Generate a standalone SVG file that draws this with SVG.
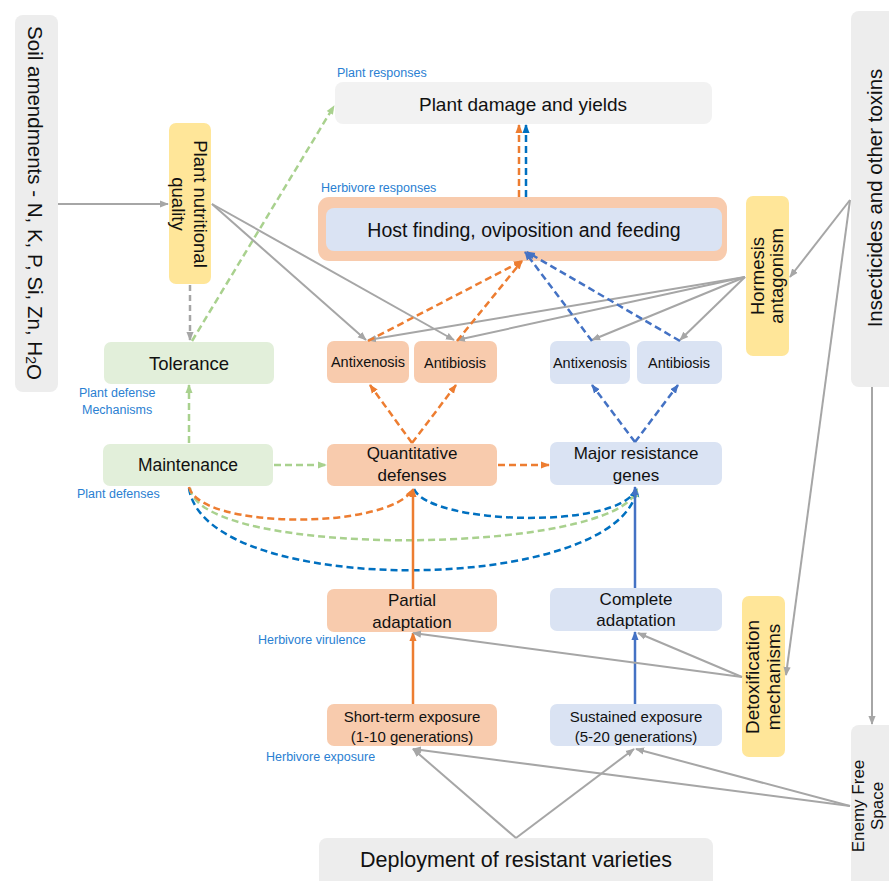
<svg xmlns="http://www.w3.org/2000/svg" width="889" height="881" viewBox="0 0 889 881">
<defs>
<style>
text{font-family:"Liberation Sans",Arial,sans-serif;fill:#111;text-anchor:middle;dominant-baseline:central}
.lbl{fill:#2a80d2;font-size:12.5px;text-anchor:start;dominant-baseline:alphabetic}
.g{fill:none;stroke:#a6a6a6;stroke-width:2}
.gd{fill:none;stroke:#a6a6a6;stroke-width:2.5;stroke-dasharray:6 4}
.od{fill:none;stroke:#ed7d31;stroke-width:2.5;stroke-dasharray:7 4}
.bd{fill:none;stroke:#4472c4;stroke-width:2.5;stroke-dasharray:7 4}
.cd{fill:none;stroke:#0070c0;stroke-width:2.5;stroke-dasharray:7 4}
.nd{fill:none;stroke:#a9d18e;stroke-width:2.5;stroke-dasharray:7 4}
.os{fill:none;stroke:#ed7d31;stroke-width:2.5}
.bs{fill:none;stroke:#4472c4;stroke-width:2.5}
.gray{fill:#ededed}
.lgray{fill:#f2f2f2}
.yel{fill:#ffe699}
.org{fill:#f8cbad}
.blu{fill:#dae3f3}
.grn{fill:#e2efda}
</style>
<marker id="ag" viewBox="0 0 10 10" refX="9" refY="5" markerWidth="9" markerHeight="9" markerUnits="userSpaceOnUse" orient="auto"><path d="M0,1 L10,5 L0,9 z" fill="#a6a6a6"/></marker>
<marker id="ao" viewBox="0 0 10 10" refX="9" refY="5" markerWidth="9" markerHeight="9" markerUnits="userSpaceOnUse" orient="auto"><path d="M0,1 L10,5 L0,9 z" fill="#ed7d31"/></marker>
<marker id="ab" viewBox="0 0 10 10" refX="9" refY="5" markerWidth="9" markerHeight="9" markerUnits="userSpaceOnUse" orient="auto"><path d="M0,1 L10,5 L0,9 z" fill="#4472c4"/></marker>
<marker id="ac" viewBox="0 0 10 10" refX="9" refY="5" markerWidth="9" markerHeight="9" markerUnits="userSpaceOnUse" orient="auto"><path d="M0,1 L10,5 L0,9 z" fill="#0070c0"/></marker>
<marker id="an" viewBox="0 0 10 10" refX="9" refY="5" markerWidth="9" markerHeight="9" markerUnits="userSpaceOnUse" orient="auto"><path d="M0,1 L10,5 L0,9 z" fill="#a9d18e"/></marker>
</defs>
<rect width="889" height="881" fill="#ffffff"/>

<g id="nodes">
<g id="soil"><rect class="gray" x="15" y="15" width="43" height="377" rx="8"/>
<text transform="translate(35,203) rotate(90)" font-size="20.5">Soil amendments - N, K, P, Si, Zn, H<tspan font-size="14" dy="4">2</tspan><tspan dy="-4">O</tspan></text></g>

<g id="pnq"><rect class="yel" x="169" y="123" width="42" height="161" rx="7"/>
<text transform="translate(190,204) rotate(90)" font-size="18.5"><tspan x="0" y="-11">Plant nutritional</tspan><tspan x="0" y="11">quality</tspan></text></g>

<g id="damage"><rect class="lgray" x="335" y="82" width="377" height="42" rx="8"/>
<text x="523" y="104" font-size="19">Plant damage and yields</text></g>

<g id="host"><rect class="org" x="318" y="197" width="409" height="64" rx="11"/>
<rect class="blu" x="326" y="208" width="396" height="43" rx="8"/>
<text x="524" y="230" font-size="19.5">Host finding, oviposition and feeding</text></g>

<g id="hormesis"><rect class="yel" x="746" y="196" width="43" height="160" rx="7"/>
<text transform="translate(767,276) rotate(-90)" font-size="18.5"><tspan x="0" y="-10">Hormesis</tspan><tspan x="0" y="9">antagonism</tspan></text></g>

<g id="insecticides"><rect class="gray" x="851" y="11" width="50" height="376" rx="8"/>
<text transform="translate(874,198) rotate(-90)" font-size="20.5">Insecticides and other toxins</text></g>

<g id="tolerance"><rect class="grn" x="104" y="342" width="170" height="42" rx="7"/>
<text x="189" y="363" font-size="18.5">Tolerance</text></g>

<g id="o-antix"><rect class="org" x="327" y="341" width="82" height="42" rx="7"/>
<text x="368" y="362" font-size="14.5">Antixenosis</text></g>
<g id="o-antib"><rect class="org" x="414" y="341" width="83" height="42" rx="7"/>
<text x="455" y="363" font-size="14.5">Antibiosis</text></g>
<g id="b-antix"><rect class="blu" x="550" y="341" width="80" height="43" rx="7"/>
<text x="590" y="363" font-size="14.5">Antixenosis</text></g>
<g id="b-antib"><rect class="blu" x="637" y="341" width="85" height="43" rx="7"/>
<text x="679" y="363" font-size="14.5">Antibiosis</text></g>

<g id="maintenance"><rect class="grn" x="103" y="444" width="170" height="42" rx="7"/>
<text x="188" y="465" font-size="17.5">Maintenance</text></g>
<g id="quantitative"><rect class="org" x="327" y="444" width="170" height="42" rx="7"/>
<text x="412" y="453" font-size="17">Quantitative</text><text x="412" y="475" font-size="17">defenses</text></g>
<g id="major"><rect class="blu" x="550" y="442" width="172" height="43" rx="7"/>
<text x="636" y="453" font-size="17">Major resistance</text><text x="636" y="475" font-size="17">genes</text></g>

<g id="partial"><rect class="org" x="327" y="589" width="170" height="43" rx="7"/>
<text x="412" y="600" font-size="17">Partial</text><text x="412" y="622" font-size="17">adaptation</text></g>
<g id="complete"><rect class="blu" x="550" y="588" width="172" height="43" rx="7"/>
<text x="636" y="599" font-size="17">Complete</text><text x="636" y="620" font-size="17">adaptation</text></g>

<g id="shortterm"><rect class="org" x="327" y="704" width="170" height="42" rx="7"/>
<text x="412" y="716" font-size="15">Short-term exposure</text><text x="412" y="736" font-size="15">(1-10 generations)</text></g>
<g id="sustained"><rect class="blu" x="550" y="704" width="172" height="42" rx="7"/>
<text x="636" y="716" font-size="15">Sustained exposure</text><text x="636" y="736" font-size="15">(5-20 generations)</text></g>

<g id="detox"><rect class="yel" x="742" y="596" width="43" height="161" rx="7"/>
<text transform="translate(763,677) rotate(-90)" font-size="19"><tspan x="0" y="-11">Detoxification</tspan><tspan x="0" y="10">mechanisms</tspan></text></g>

<g id="enemy"><rect class="gray" x="851" y="725" width="50" height="170" rx="8"/>
<text transform="translate(867,806) rotate(-90)" font-size="17"><tspan x="0" y="-9">Enemy Free</tspan><tspan x="0" y="10">Space</tspan></text></g>

<g id="deployment"><rect class="gray" x="319" y="838" width="394" height="60" rx="8"/>
<text x="516" y="860" font-size="21.5">Deployment of resistant varieties</text></g>
</g>

<g id="labels">
<text class="lbl" x="337" y="77">Plant responses</text>
<text class="lbl" x="321" y="192">Herbivore responses</text>
<text class="lbl" x="79" y="397">Plant defense</text>
<text class="lbl" x="82" y="414">Mechanisms</text>
<text class="lbl" x="77" y="498">Plant defenses</text>
<text class="lbl" x="258" y="644">Herbivore virulence</text>
<text class="lbl" x="266" y="761">Herbivore exposure</text>
</g>

<g id="connectors">
<path class="g" d="M58,204 L168,204" marker-end="url(#ag)"/>
<path class="gd" d="M190,285 L190,340" marker-end="url(#ag)"/>
<path class="nd" d="M192,341 L334,106" marker-end="url(#an)"/>
<path class="g" d="M212,204 L366,340" marker-end="url(#ag)"/>
<path class="g" d="M212,204 L454,340" marker-end="url(#ag)"/>
<path class="g" d="M745,277 L368,340" marker-end="url(#ag)"/>
<path class="g" d="M745,277 L457,340" marker-end="url(#ag)"/>
<path class="g" d="M745,277 L592,340" marker-end="url(#ag)"/>
<path class="g" d="M745,277 L680,340" marker-end="url(#ag)"/>
<path class="g" d="M850,200 L790,277" marker-end="url(#ag)"/>
<path class="g" d="M850,200 L786,675" marker-end="url(#ag)"/>
<path class="g" d="M872,387 L872,724" marker-end="url(#ag)"/>
<path class="od" d="M519,197 L519,125" marker-end="url(#ao)"/>
<path class="cd" d="M526,197 L526,125" marker-end="url(#ac)"/>
<path class="od" d="M368,341 L522,261" marker-end="url(#ao)"/>
<path class="od" d="M457,341 L522,261" marker-end="url(#ao)"/>
<path class="bd" d="M592,341 L525,252" marker-end="url(#ab)"/>
<path class="bd" d="M680,341 L527,252" marker-end="url(#ab)"/>
<path class="od" d="M412,443 L370,385" marker-end="url(#ao)"/>
<path class="od" d="M412,443 L456,385" marker-end="url(#ao)"/>
<path class="bd" d="M635,442 L592,385" marker-end="url(#ab)"/>
<path class="bd" d="M635,442 L678,385" marker-end="url(#ab)"/>
<path class="nd" d="M189,443 L189,385" marker-end="url(#an)"/>
<path class="nd" d="M274,465 L326,465" marker-end="url(#an)"/>
<path class="od" d="M498,465 L549,465" marker-end="url(#ao)"/>
<path class="cd" d="M189,488 C205,600 620,595 637,489" marker-end="url(#ac)"/>
<path class="nd" d="M190,488 C200,560 620,555 637,489" marker-end="url(#an)"/>
<path class="od" d="M189,487 C200,530 390,530 413,489" marker-end="url(#ao)"/>
<path class="cd" d="M414,489 C430,525 620,530 636,489" marker-end="url(#ac)"/>
<path class="os" d="M413,589 L413,489" marker-end="url(#ao)"/>
<path class="bs" d="M635,588 L635,487" marker-end="url(#ab)"/>
<path class="os" d="M413,704 L413,633" marker-end="url(#ao)"/>
<path class="bs" d="M635,704 L635,632" marker-end="url(#ab)"/>
<path class="g" d="M742,677 L413,633" marker-end="url(#ag)"/>
<path class="g" d="M742,677 L638,633" marker-end="url(#ag)"/>
<path class="g" d="M850,806 L413,749" marker-end="url(#ag)"/>
<path class="g" d="M850,806 L636,749" marker-end="url(#ag)"/>
<path class="g" d="M516,838 L413,749" marker-end="url(#ag)"/>
<path class="g" d="M516,838 L634,749" marker-end="url(#ag)"/>
</g>
</svg>
